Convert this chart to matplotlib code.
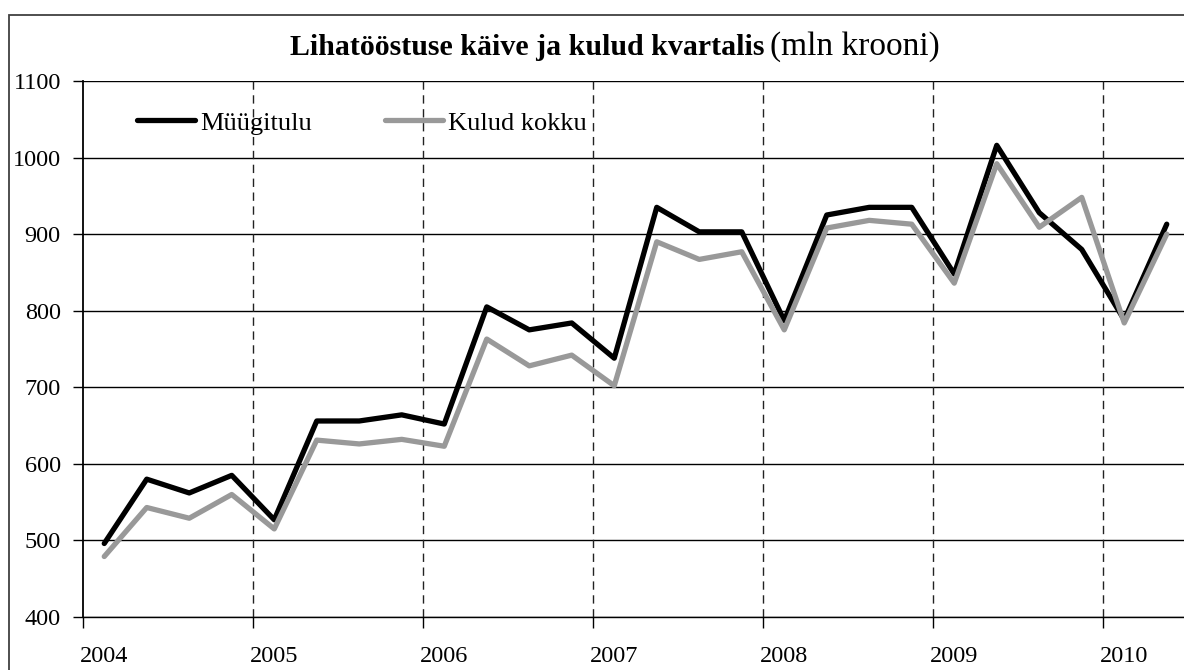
import matplotlib
matplotlib.use("Agg")
import matplotlib.pyplot as plt
from matplotlib.patches import Rectangle
import numpy as np

# ---- data ----
quarters = ["2004Q1", "2004Q2", "2004Q3", "2004Q4",
            "2005Q1", "2005Q2", "2005Q3", "2005Q4",
            "2006Q1", "2006Q2", "2006Q3", "2006Q4",
            "2007Q1", "2007Q2", "2007Q3", "2007Q4",
            "2008Q1", "2008Q2", "2008Q3", "2008Q4",
            "2009Q1", "2009Q2", "2009Q3", "2009Q4",
            "2010Q1", "2010Q2"]
muugitulu = [496, 580, 562, 585,
             527, 656, 656, 664,
             652, 805, 775, 784,
             738, 935, 903, 903,
             787, 925, 935, 935,
             848, 1016, 928, 880,
             788, 913]
kulud = [479, 543, 529, 560,
         515, 631, 626, 632,
         623, 763, 728, 742,
         702, 890, 867, 877,
         775, 908, 918, 913,
         836, 992, 909, 948,
         784, 900]
years = [2004, 2005, 2006, 2007, 2008, 2009, 2010]
year_labels = ["2004", "2005", "2006", "2007", "2008", "2009", "2010"]
yticks = [400, 500, 600, 700, 800, 900, 1000, 1100]
series_names = ["Müügitulu", "Kulud kokku"]
title_bold = "Lihatööstuse käive ja kulud kvartalis"
title_reg = "(mln krooni)"

# quarter -> position on a continuous year axis (centre of quarter)
x = [int(q[:4]) + (int(q[5]) - 0.5) / 4 for q in quarters]

W, H = 1184, 670
fig = plt.figure(figsize=(W / 100, H / 100), dpi=100)
plt.rcParams['font.family'] = ['Liberation Serif', 'DejaVu Serif']

# outer chart border
fig.patches.append(Rectangle((9 / W, -0.1), 1.2, 1 - 15 / H + 0.1,
                             transform=fig.transFigure, fill=False,
                             edgecolor='#404040', linewidth=1.3, zorder=0))

ax = fig.add_axes([83 / W, 1 - 617 / H, (W - 83) / W, (617 - 81) / H])
ax.set_xlim(2004, 2004 + (W - 83) / 170)
ax.set_ylim(400, 1100)

ax.set_yticks(yticks)
ax.yaxis.grid(True, color='black', linewidth=1.0)
for yr in years[1:]:
    ax.axvline(yr, color='#222222', linewidth=1.0, linestyle=(0, (6, 4)), zorder=1)

ax.plot(x, muugitulu, color='black', linewidth=3.8, label=series_names[0],
        solid_joinstyle='round', solid_capstyle='round', zorder=3)
ax.plot(x, kulud, color='#999999', linewidth=3.8, label=series_names[1],
        solid_joinstyle='round', solid_capstyle='round', zorder=4)

for s in ['top', 'right']:
    ax.spines[s].set_visible(False)
ax.spines['left'].set_linewidth(1.3)
ax.spines['bottom'].set_linewidth(1.0)
ax.set_axisbelow(True)

ax.set_xticks(years)
ax.set_xticklabels([])
ax.set_xticks([y + 0.125 for y in years], minor=True)
ax.set_xticklabels(year_labels, minor=True)
ax.tick_params(axis='x', which='major', direction='out', length=8, width=1.0)
ax.tick_params(axis='x', which='minor', length=0, pad=21, labelsize=17.5)
ax.tick_params(axis='y', direction='out', length=7, width=1.0, pad=9, labelsize=17.5)

leg = ax.legend(loc='center left', bbox_to_anchor=(137 / W, 1 - 123 / H),
                bbox_transform=fig.transFigure, ncol=2, frameon=False,
                fontsize=19, handlelength=2.2, handletextpad=0.2,
                columnspacing=2.75, borderpad=0, borderaxespad=0)

t1 = fig.text(290 / W, 1 - 55 / H, title_bold, ha='left', va='baseline',
              fontsize=21.5, fontweight='bold')
fig.canvas.draw()
bb = t1.get_window_extent()
fig.text((bb.x1 + 5) / W, 1 - 55 / H, title_reg, ha='left', va='baseline',
         fontsize=24)

fig.savefig("out.png", dpi=100)
